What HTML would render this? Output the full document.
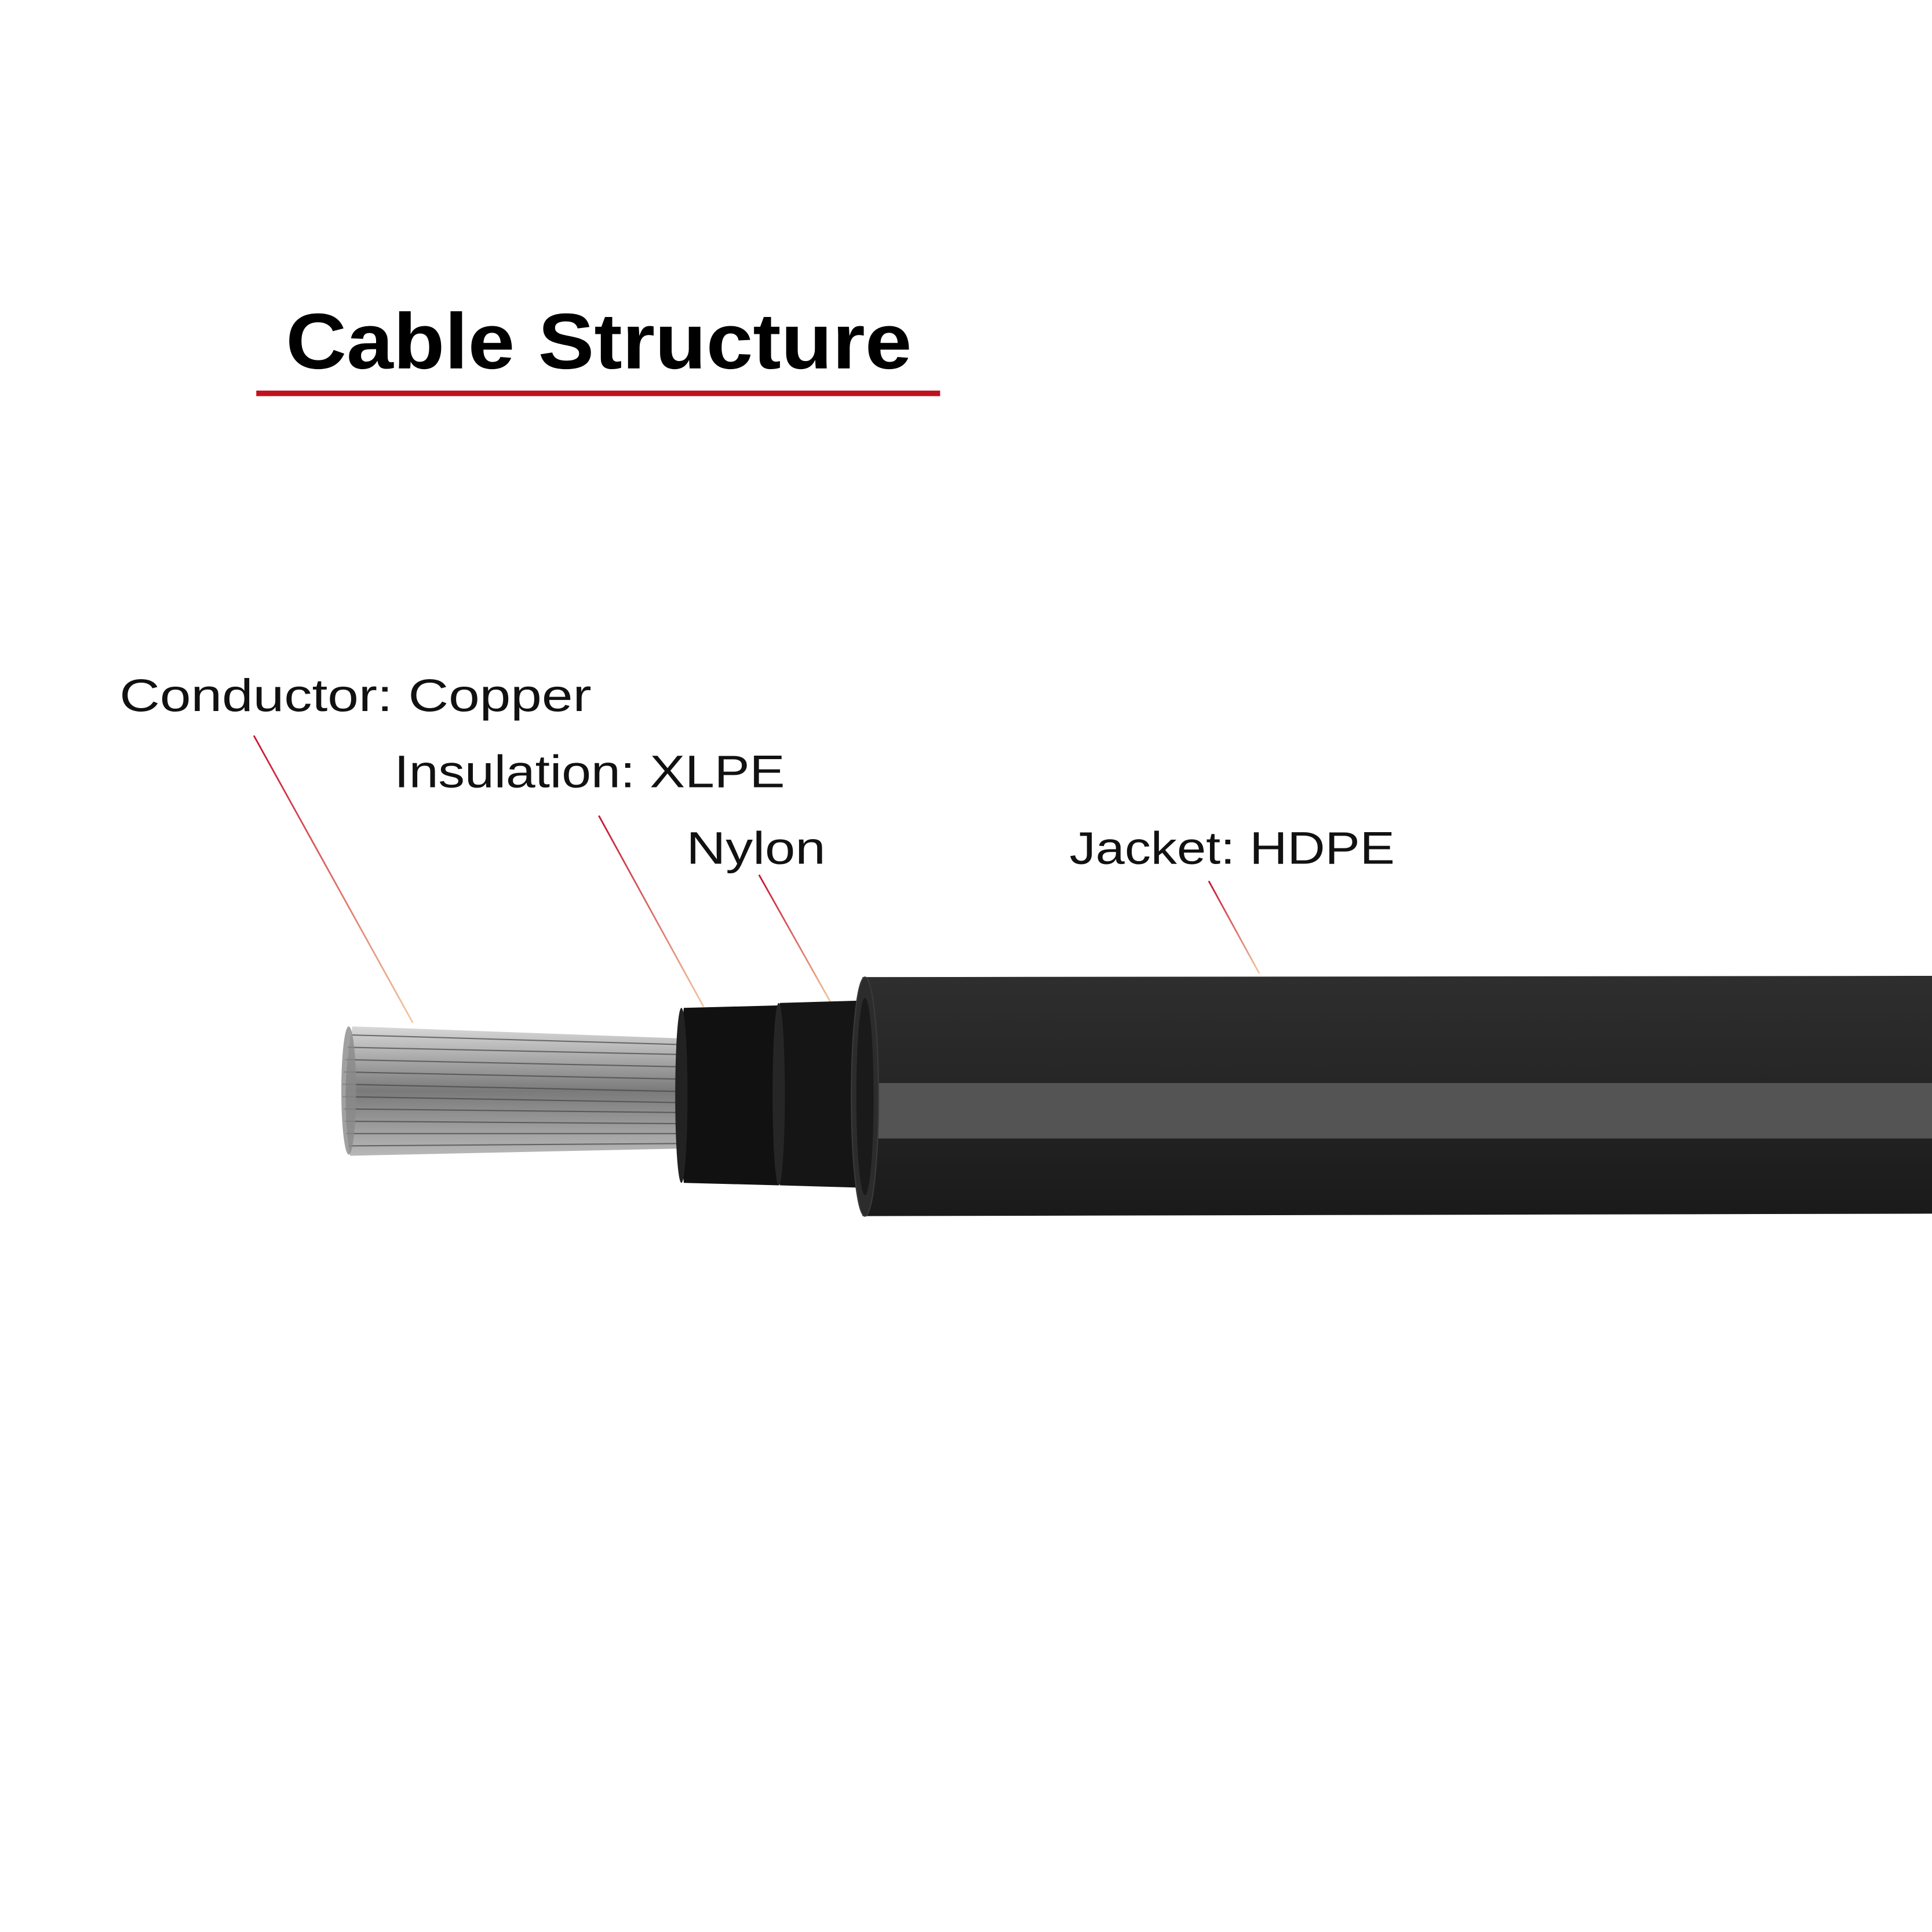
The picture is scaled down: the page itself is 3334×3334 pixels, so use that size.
<!DOCTYPE html>
<html><head><meta charset="utf-8"><style>
html,body{margin:0;padding:0;background:#fff;}
svg{display:block;}
</style></head><body>
<svg width="3334" height="3334" viewBox="0 0 1568 1568" xmlns="http://www.w3.org/2000/svg">
<defs>
<linearGradient id="jk" x1="0" y1="0" x2="0" y2="1">
<stop offset="0" stop-color="#2e2e2e"/><stop offset="0.45" stop-color="#262626"/><stop offset="1" stop-color="#1a1a1a"/>
</linearGradient>
<linearGradient id="cu" x1="0" y1="0" x2="0" y2="1">
<stop offset="0" stop-color="#d8d8d8"/><stop offset="0.5" stop-color="#7a7a7a"/><stop offset="1" stop-color="#b8b8b8"/>
</linearGradient>
<linearGradient id="ld1" x1="0" y1="0" x2="0" y2="1">
<stop offset="0" stop-color="#c8102e"/><stop offset="1" stop-color="#f0c8a0"/>
</linearGradient>
</defs>
<rect width="1568" height="1568" fill="#fff"/>
<text x="232" y="299" font-family="Liberation Sans, sans-serif" font-weight="bold" font-size="64" fill="#000" textLength="508" lengthAdjust="spacingAndGlyphs">Cable Structure</text>
<rect x="208" y="317" width="555" height="4.5" fill="#c0121e"/>

<g font-family="Liberation Sans, sans-serif" font-size="37" fill="#111">
<text x="97" y="577" textLength="383" lengthAdjust="spacingAndGlyphs">Conductor:  Copper</text>
<text x="320" y="639" textLength="317" lengthAdjust="spacingAndGlyphs">Insulation: XLPE</text>
<text x="557" y="701" textLength="113" lengthAdjust="spacingAndGlyphs">Nylon</text>
<text x="868" y="701" textLength="264" lengthAdjust="spacingAndGlyphs">Jacket: HDPE</text>
</g>
<g stroke="url(#ld1)" stroke-width="1.3" fill="none">
<line x1="206" y1="597" x2="335" y2="830"/>
<line x1="486" y1="662" x2="571" y2="817"/>
<line x1="616" y1="710" x2="675" y2="815"/>
<line x1="981" y1="715" x2="1022" y2="790"/>
</g>

<g>
<path d="M286 833 L560 843 L560 932 L284 938 Q276 885 286 833 Z" fill="url(#cu)"/>
<g stroke="#444" stroke-width="1" opacity="0.7">
<line x1="286" y1="840" x2="560" y2="848"/>
<line x1="282" y1="850" x2="560" y2="856"/>
<line x1="280" y1="860" x2="560" y2="866"/>
<line x1="279" y1="870" x2="560" y2="876"/>
<line x1="278" y1="880" x2="560" y2="886"/>
<line x1="278" y1="890" x2="560" y2="895"/>
<line x1="279" y1="900" x2="560" y2="903"/>
<line x1="280" y1="910" x2="560" y2="912"/>
<line x1="281" y1="920" x2="560" y2="920"/>
<line x1="283" y1="930" x2="560" y2="928"/>
</g>
<ellipse cx="283" cy="885" rx="6" ry="52" fill="#8a8a8a" opacity="0.8"/>
</g>

<path d="M555 818 L632 816 L632 962 L555 960 Q546 889 555 818 Z" fill="#111"/>
<ellipse cx="553" cy="889" rx="5" ry="71" fill="#222"/>
<path d="M633 814 L702 812 L702 964 L633 962 Q624 888 633 814 Z" fill="#151515"/>
<ellipse cx="632" cy="888" rx="5" ry="74" fill="#262626"/>
<path d="M700 793 L1568 792 L1568 985 L700 987 Q688 890 700 793 Z" fill="url(#jk)"/>
<rect x="705" y="879" width="863" height="45" fill="#545454"/>
<ellipse cx="702" cy="890" rx="11" ry="97" fill="#2c2c2c" stroke="#3a3a3a" stroke-width="1"/>
<ellipse cx="702" cy="890" rx="7" ry="80" fill="#1a1a1a"/>
</svg>
</body></html>
